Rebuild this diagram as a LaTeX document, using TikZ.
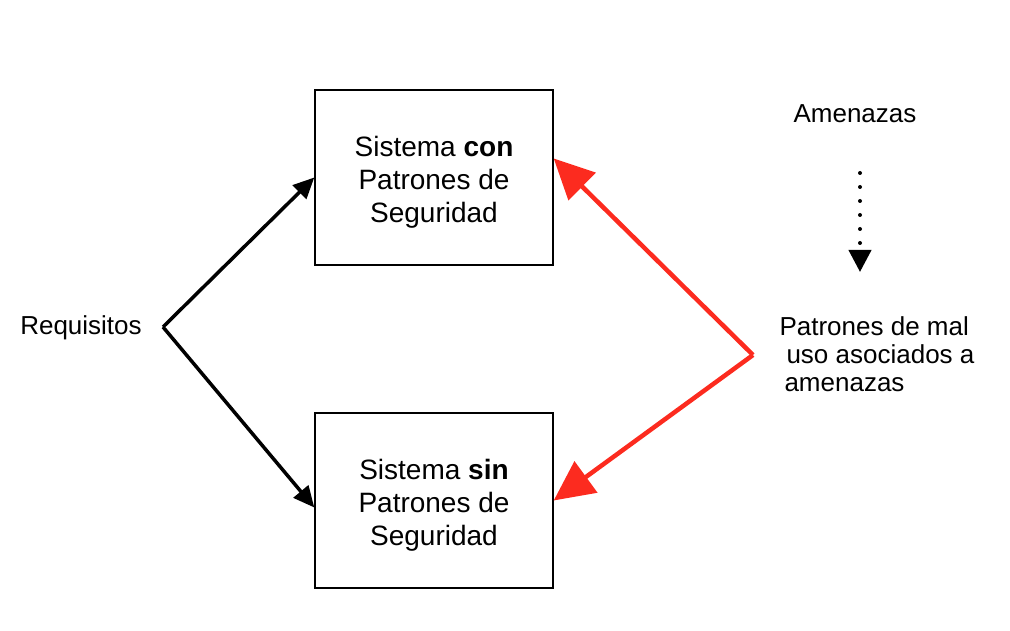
\documentclass[tikz,border=0pt]{standalone}
\usepackage{fontspec}
\setmainfont{Liberation Sans}
\usepackage{xcolor}
\definecolor{AlertRed}{HTML}{FC2B1F}
\usepackage{tikz}
\usetikzlibrary{arrows.meta,positioning}

\begin{document}
\begin{tikzpicture}[
  x=1pt, y=1pt,
  sysbox/.style={draw, line width=1.4pt, minimum width=238pt, minimum height=175pt, align=center, text height=95pt, font=\fontsize{28}{33}\selectfont},
  label/.style={font=\fontsize{26}{28}\selectfont},
  arrow/.style={-{Triangle[length=21pt, width=19pt]}, line width=3.5pt},
  threat/.style={-{Triangle[length=40pt, width=38pt]}, line width=4.5pt, draw=AlertRed},
  dots/.style={-{Triangle[length=22pt, width=22pt]}, line width=4pt, line cap=round, dash pattern=on 0pt off 14pt},
]
\useasboundingbox (0,0) rectangle (1010,630);
\node[sysbox] (con) at (434,452.5) {Sistema \textbf{con}\\Patrones de\\Seguridad};
\node[sysbox] (sin) at (434,129.5) {Sistema \textbf{sin}\\Patrones de\\Seguridad};
\node[label] (req) at (81,302) {Requisitos};
\node[label] (amen) at (855,516) {Amenazas};
\node[label, anchor=west, align=left] (mal) at (776,276) {Patrones de mal\\\hspace*{7pt}uso asociados a\\\hspace*{5pt}amenazas};
\coordinate (split) at (163,303);
\coordinate (merge) at (753,275);
\coordinate (dtop) at (860,457);
\coordinate (dend) at (860,358);
\draw[arrow] (split) -- (con.west);
\draw[arrow] (split) -- ([yshift=-7pt]sin.west);
\draw[threat] (merge) -- ([yshift=19pt]con.east);
\draw[threat] (merge) -- (sin.east);
\draw[dots] (dtop) -- (dend);
\end{tikzpicture}
\end{document}
